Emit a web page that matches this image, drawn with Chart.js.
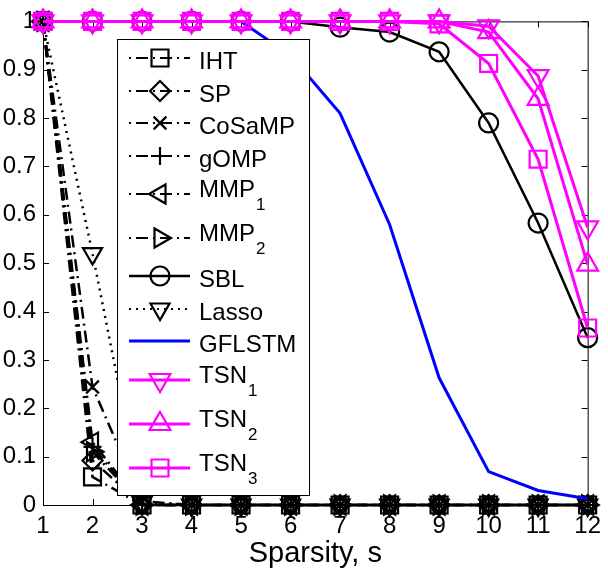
<!DOCTYPE html>
<html>
<head>
<meta charset="utf-8">
<script src="https://cdn.jsdelivr.net/npm/chart.js@4.4.0/dist/chart.umd.min.js"></script>
<style>
  html, body { margin: 0; padding: 0; background: #fff; }
  #wrap { width: 608px; height: 578px; }
</style>
</head>
<body>
<div id="wrap"><canvas id="chart"></canvas></div>
<script>
// ===== Data =====
const sparsity = [1, 2, 3, 4, 5, 6, 7, 8, 9, 10, 11, 12];
const yTicks = [0, 0.1, 0.2, 0.3, 0.4, 0.5, 0.6, 0.7, 0.8, 0.9, 1];

const iht    = [1, 0.058, 0, 0, 0, 0, 0, 0, 0, 0, 0, 0];
const sp     = [1, 0.092, 0, 0, 0, 0, 0, 0, 0, 0, 0, 0];
const cosamp = [1, 0.244, 0.008, 0, 0, 0, 0, 0, 0, 0, 0, 0];
const gomp   = [1, 0.12, 0, 0, 0, 0, 0, 0, 0, 0, 0, 0];
const mmp1   = [1, 0.13, 0, 0, 0, 0, 0, 0, 0, 0, 0, 0];
const mmp2   = [1, 0.11, 0, 0, 0, 0, 0, 0, 0, 0, 0, 0];
const sbl    = [1, 1, 1, 1, 1, 1, 0.988, 0.978, 0.937, 0.79, 0.583, 0.346];
const lasso  = [1, 0.52, 0.005, 0, 0, 0, 0, 0, 0, 0, 0, 0];
const gflstm = [1, 1, 1, 1, 1, 0.93, 0.81, 0.58, 0.263, 0.069, 0.03, 0.013];
const tsn1   = [1, 1, 1, 1, 1, 1, 1, 1, 1, 0.99, 0.887, 0.574];
const tsn2   = [1, 1, 1, 1, 1, 1, 1, 1, 1, 0.978, 0.84, 0.497];
const tsn3   = [1, 1, 1, 1, 1, 1, 1, 1, 0.995, 0.913, 0.715, 0.366];

const seriesNames = ["IHT", "SP", "CoSaMP", "gOMP", "MMP_1", "MMP_2", "SBL", "Lasso", "GFLSTM", "TSN_1", "TSN_2", "TSN_3"];
const seriesValues = [iht, sp, cosamp, gomp, mmp1, mmp2, sbl, lasso, gflstm, tsn1, tsn2, tsn3];

// ===== Styles =====
const FONT = "'Liberation Sans', Arial, sans-serif";
const dashDot = [12, 5, 2, 5];
const styles = [
  { color: "#000", dash: dashDot, shape: "rect", r: 12, rot: 0 },
  { color: "#000", dash: dashDot, shape: "rectRot", r: 10, rot: 0 },
  { color: "#000", dash: dashDot, shape: "crossRot", r: 9, rot: 0 },
  { color: "#000", dash: dashDot, shape: "cross", r: 9, rot: 0 },
  { color: "#000", dash: dashDot, shape: "triangle", r: 11, rot: -90 },
  { color: "#000", dash: dashDot, shape: "triangle", r: 11, rot: 90 },
  { color: "#000", dash: [], shape: "circle", r: 9.5, rot: 0 },
  { color: "#000", dash: [2, 5], shape: "triangle", r: 11, rot: 180 },
  { color: "#0000ff", dash: [], shape: false, r: 0, rot: 0 },
  { color: "#ff00ff", dash: [], shape: "triangle", r: 12, rot: 180 },
  { color: "#ff00ff", dash: [], shape: "triangle", r: 12, rot: 0 },
  { color: "#ff00ff", dash: [], shape: "rect", r: 12, rot: 0 },
];

const datasets = seriesNames.map((name, i) => {
  const st = styles[i];
  return {
    label: name,
    data: sparsity.map((s, k) => ({ x: s, y: seriesValues[i][k] })),
    borderColor: st.color,
    backgroundColor: "rgba(0,0,0,0)",
    borderWidth: st.color === "#000" ? 2.5 : 3,
    borderDash: st.dash,
    pointStyle: st.shape,
    pointRadius: st.shape ? st.r : 0,
    pointRotation: st.rot,
    pointBorderColor: st.color,
    pointBackgroundColor: "rgba(0,0,0,0)",
    pointBorderWidth: 2.2,
    pointHoverRadius: st.r,
    tension: 0,
    clip: false,
    order: seriesNames.length - i,
  };
});

// ===== Axes box with inward ticks =====
const boxPlugin = {
  id: "box",
  beforeDatasetsDraw(chart) {
    const { ctx, chartArea: a, scales } = chart;
    ctx.save();
    ctx.strokeStyle = "#000";
    ctx.lineWidth = 1;
    ctx.setLineDash([]);
    ctx.strokeRect(a.left + 0.5, a.top + 0.5, a.right - a.left, a.bottom - a.top);
    const t = 6;
    ctx.beginPath();
    scales.x.ticks.forEach((tk) => {
      const px = Math.round(scales.x.getPixelForValue(tk.value)) + 0.5;
      ctx.moveTo(px, a.bottom); ctx.lineTo(px, a.bottom - t);
      ctx.moveTo(px, a.top); ctx.lineTo(px, a.top + t);
    });
    scales.y.ticks.forEach((tk) => {
      const py = Math.round(scales.y.getPixelForValue(tk.value)) + 0.5;
      ctx.moveTo(a.left, py); ctx.lineTo(a.left + t, py);
      ctx.moveTo(a.right, py); ctx.lineTo(a.right - t, py);
    });
    ctx.stroke();
    ctx.restore();
  },
};

// ===== Legend with subscripts =====
const legendPlugin = {
  id: "subLegend",
  afterDatasetsDraw(chart) {
    const { ctx } = chart;
    const bx = 117, by = 39, bw = 192, bh = 456;
    ctx.save();
    ctx.fillStyle = "#fff";
    ctx.fillRect(bx, by, bw, bh);
    ctx.strokeStyle = "#000";
    ctx.lineWidth = 1;
    ctx.setLineDash([]);
    ctx.strokeRect(bx + 0.5, by + 0.5, bw, bh);

    let top = 42;
    chart.data.datasets.forEach((ds) => {
      const parts = ds.label.split("_");
      const h = parts.length > 1 ? 44 : 32.5;
      const cy = Math.round(top + h / 2);
      top += h;

      ctx.strokeStyle = ds.borderColor;
      ctx.lineWidth = ds.borderDash.length ? 2 : ds.borderWidth;
      ctx.setLineDash(ds.borderDash);
      ctx.lineDashOffset = ds.borderDash.length === 4 ? 17 : 0;
      ctx.beginPath();
      ctx.moveTo(129, cy);
      ctx.lineTo(190, cy);
      ctx.stroke();
      ctx.setLineDash([]);
      ctx.lineDashOffset = 0;

      if (ds.pointStyle) {
        ctx.strokeStyle = ds.pointBorderColor;
        ctx.fillStyle = "rgba(0,0,0,0)";
        ctx.lineWidth = ds.pointBorderWidth;
        Chart.helpers.drawPoint(ctx, {
          pointStyle: ds.pointStyle,
          radius: ds.pointRadius,
          rotation: ds.pointRotation,
          borderWidth: ds.pointBorderWidth,
        }, 160, cy);
      }

      ctx.fillStyle = "#000";
      ctx.textAlign = "left";
      ctx.textBaseline = "alphabetic";
      ctx.font = "24px " + FONT;
      if (parts.length > 1) {
        ctx.fillText(parts[0], 199, cy + 3);
        const w = ctx.measureText(parts[0]).width;
        ctx.font = "17px " + FONT;
        ctx.fillText(parts[1], 199 + w + 1, cy + 16);
      } else {
        ctx.fillText(parts[0], 199, cy + 11);
      }
    });
    ctx.restore();
  },
};

// ===== Chart =====
new Chart(document.getElementById("chart"), {
  type: "line",
  data: { datasets },
  options: {
    responsive: true,
    maintainAspectRatio: false,
    animation: false,
    layout: { padding: { left: 0, top: 21, right: 17, bottom: 0 } },
    plugins: { legend: { display: false }, tooltip: { enabled: false } },
    scales: {
      x: {
        type: "linear",
        min: 1,
        max: 12,
        afterBuildTicks: (scale) => { scale.ticks = sparsity.map((v) => ({ value: v })); },
        afterFit: (scale) => { scale.height = 73; },
        grid: { display: false, drawTicks: false },
        border: { display: false },
        ticks: {
          color: "#000",
          font: { family: FONT, size: 24 },
          padding: 7,
          maxRotation: 0,
          autoSkip: false,
        },
        title: {
          display: true,
          text: "Sparsity, s",
          color: "#000",
          font: { family: FONT, size: 29, lineHeight: 1.2 },
          padding: { top: 0, bottom: 7 },
        },
      },
      y: {
        min: 0,
        max: 1,
        afterBuildTicks: (scale) => { scale.ticks = yTicks.map((v) => ({ value: v })); },
        afterFit: (scale) => { scale.width = 43; },
        grid: { display: false, drawTicks: false },
        border: { display: false },
        ticks: {
          color: "#000",
          font: { family: FONT, size: 24 },
          padding: 7,
          autoSkip: false,
          callback: (v) => String(Math.round(v * 10) / 10),
        },
      },
    },
  },
  plugins: [boxPlugin, legendPlugin],
});
</script>
</body>
</html>
